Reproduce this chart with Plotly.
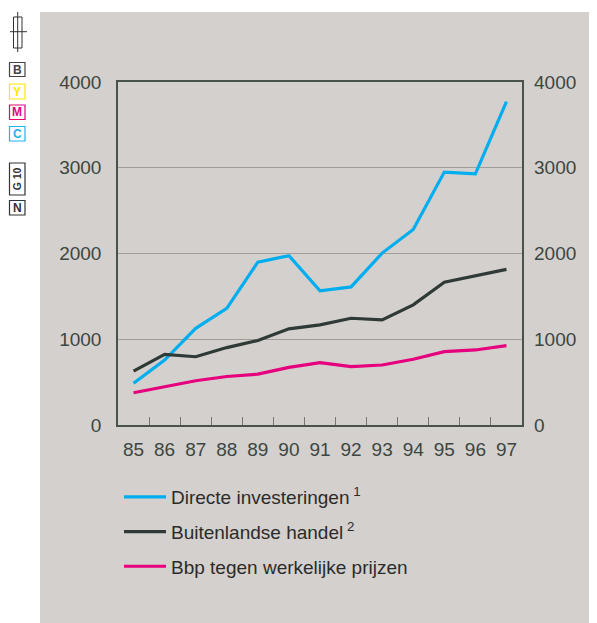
import plotly.graph_objects as go

years = ["85", "86", "87", "88", "89", "90", "91", "92", "93", "94", "95", "96", "97"]
directe_investeringen = [486, 758, 1127, 1361, 1900, 1975, 1565, 1610, 2005, 2280, 2950, 2928, 3770]
buitenlandse_handel = [628, 823, 796, 903, 986, 1122, 1167, 1245, 1226, 1401, 1665, 1740, 1815]
bbp = [376, 446, 516, 566, 593, 672, 728, 681, 700, 767, 856, 875, 926]
y_ticks = [0, 1000, 2000, 3000, 4000]

names = ["Directe investeringen\u2009<sup>1</sup>", "Buitenlandse handel\u2009<sup>2</sup>",
         "Bbp tegen werkelijke prijzen"]
colors = ["#00aeef", "#2f3a36", "#e6007e"]

# page offset (browser body margin)
OFF = 8
W, H = 597 - OFF, 623 - OFF
PL, PR, PT, PB = 118, 522, 82, 425          # plot area in page pixels
L, T = PL - OFF, PT - OFF
R, B = W + OFF - PR, H + OFF - PB
PW, PH = PR - PL, PB - PT

def px(x):
    return (x - PL) / PW

def py(y):
    return (PB - y) / PH

FONT = "Liberation Sans, Arial, Helvetica, sans-serif"
TXT = "#3c4642"

fig = go.Figure()
for name, vals, c in zip(names, [directe_investeringen, buitenlandse_handel, bbp], colors):
    fig.add_trace(go.Scatter(x=years, y=vals, name=name, mode="lines",
                             line=dict(color=c, width=3.2), legendgroup=name))
# invisible trace for right axis
fig.add_trace(go.Scatter(x=years, y=bbp, yaxis="y2", showlegend=False,
                         mode="lines", line=dict(width=0), hoverinfo="skip", opacity=0))

shapes = []
# grey panel
shapes.append(dict(type="rect", xref="paper", yref="paper", x0=px(40), x1=px(605),
                   y0=py(630), y1=py(12), fillcolor="#d4d0cd", line=dict(width=0), layer="below"))
# crosshair mark
mk = "#333333"
shapes.append(dict(type="rect", xref="paper", yref="paper", x0=px(13.5), x1=px(22),
                   y0=py(48), y1=py(17), line=dict(color=mk, width=1)))
shapes.append(dict(type="line", xref="paper", yref="paper", x0=px(17.7), x1=px(17.7),
                   y0=py(52), y1=py(12), line=dict(color=mk, width=1)))
shapes.append(dict(type="line", xref="paper", yref="paper", x0=px(10), x1=px(27),
                   y0=py(31.7), y1=py(31.7), line=dict(color=mk, width=1)))

annotations = []
marks = [("B", 62.5, 76.5, "#444444", 12), ("Y", 84, 99, "#ffe600", 12),
         ("M", 105, 119.5, "#e6007e", 12), ("C", 126.5, 141, "#1fb3ea", 12),
         ("G 10", 163, 195, "#333333", 10.5), ("N", 200.5, 215, "#333333", 12)]
for t, y0, y1, c, fs in marks:
    shapes.append(dict(type="rect", xref="paper", yref="paper", x0=px(9.5), x1=px(25),
                       y0=py(y1), y1=py(y0), line=dict(color=c, width=1.2)))
    annotations.append(dict(text="<b>%s</b>" % t, xref="paper", yref="paper",
                            x=px(17.3), y=py((y0 + y1) / 2), showarrow=False,
                            textangle=-90 if t == "G 10" else 0,
                            font=dict(family=FONT, size=fs, color=c),
                            xanchor="center", yanchor="middle"))

fig.update_layout(
    width=W, height=H,
    margin=dict(l=L, r=R, t=T, b=B, pad=0),
    paper_bgcolor="white", plot_bgcolor="white",
    font=dict(family=FONT, size=19, color=TXT),
    showlegend=True,
    legend=dict(x=px(119), y=py(478), xanchor="left", yanchor="top",
                bgcolor="rgba(0,0,0,0)", font=dict(family=FONT, size=19, color="#2b2b2b"),
                tracegroupgap=7, traceorder="grouped", itemwidth=42),
    xaxis=dict(type="category", range=[-0.5, 12.5], tickson="boundaries",
               ticks="inside", ticklen=8, tickcolor="#777777", tickwidth=1,
               showline=True, linecolor="#4a524e", linewidth=1.5, mirror=True,
               showgrid=False, ticklabelstandoff=6, zeroline=False,
               tickfont=dict(size=19, color=TXT)),
    yaxis=dict(range=[0, 4000], tickvals=y_ticks, showgrid=True, gridcolor="#a39d98",
               gridwidth=1, showline=True, linecolor="#4a524e", linewidth=1.5, mirror=True,
               ticks="", zeroline=False, ticklabelstandoff=11,
               tickfont=dict(size=19, color=TXT)),
    yaxis2=dict(range=[0, 4000], tickvals=y_ticks, overlaying="y", side="right",
                showgrid=False, ticks="", zeroline=False, ticklabelstandoff=11,
                tickfont=dict(size=19, color=TXT)),
    shapes=shapes,
    annotations=annotations,
    hovermode=False,
)

fig.write_html("out.html")
